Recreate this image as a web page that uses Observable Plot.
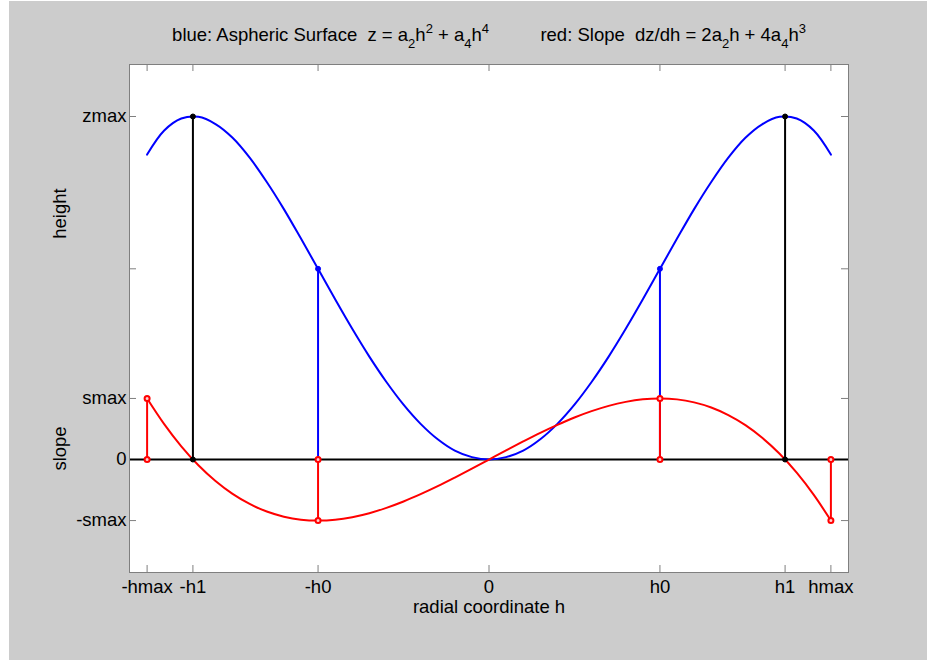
<!DOCTYPE html>
<html>
<head>
<meta charset="utf-8">
<script src="https://cdn.jsdelivr.net/npm/d3@7"></script>
<script src="https://cdn.jsdelivr.net/npm/@observablehq/plot@0.6"></script>
<style>
  body { margin: 0; background: #fff; }
  #fig { position: relative; width: 927px; height: 660px; background: #fff; overflow: hidden;
         font-family: "Liberation Sans", Arial, Helvetica, sans-serif; }
  #bg { position: absolute; left: 9px; top: 1px; width: 918px; height: 659px; background: #cccccc; }
  #chart { position: absolute; left: 0; top: 0; }
  #title { position: absolute; left: 0; width: 978px; top: 26px; text-align: center; font-size: 18.5px;
           line-height: 18px; white-space: pre; color: #000; }
  #title sub, #title sup { font-size: 13px; position: relative; vertical-align: baseline; line-height: 0; }
  #title sub { top: 7px; }
  #title sup { top: -8px; }
</style>
</head>
<body>
<div id="fig">
  <div id="bg"></div>
  <div id="chart"></div>
  <div id="title">blue: Aspheric Surface  z = a<sub>2</sub>h<sup>2</sup> + a<sub>4</sub>h<sup>4</sup>          red: Slope  dz/dh = 2a<sub>2</sub>h + 4a<sub>4</sub>h<sup>3</sup></div>
</div>
<script>
// ---- data (height normalised so zmax = 1, slope in units of smax) ----
const hSamples = [-1, -0.95, -0.9, -0.85, -0.8, -0.75, -0.7, -0.65, -0.6, -0.55, -0.5,
                  -0.45, -0.4, -0.35, -0.3, -0.25, -0.2, -0.15, -0.1, -0.05, 0,
                  0.05, 0.1, 0.15, 0.2, 0.25, 0.3, 0.35, 0.4, 0.45, 0.5,
                  0.55, 0.6, 0.65, 0.7, 0.75, 0.8, 0.85, 0.9, 0.95, 1];
const heightValues = [0.889, 0.959, 0.994, 0.999, 0.978, 0.938, 0.880, 0.809, 0.730, 0.644, 0.556,
                      0.467, 0.381, 0.300, 0.226, 0.160, 0.104, 0.059, 0.026, 0.007, 0,
                      0.007, 0.026, 0.059, 0.104, 0.160, 0.226, 0.300, 0.381, 0.467, 0.556,
                      0.644, 0.730, 0.809, 0.880, 0.938, 0.978, 0.999, 0.994, 0.959, 0.889];
const slopeValues = [1, 0.580, 0.216, -0.094, -0.352, -0.563, -0.728, -0.852, -0.936, -0.985, -1,
                     -0.986, -0.944, -0.879, -0.792, -0.688, -0.568, -0.437, -0.296, -0.150, 0,
                     0.150, 0.296, 0.437, 0.568, 0.688, 0.792, 0.879, 0.944, 0.986, 1,
                     0.985, 0.936, 0.852, 0.728, 0.563, 0.352, 0.094, -0.216, -0.580, -1];

// key positions
const hmax = 1, h1 = 0.866, h0 = 0.5;
const zmax = 1, zAtH0 = 0.556, smax = 1;

const blackStems = [{h: -h1, top: zmax}, {h: h1, top: zmax}];
const blueStems = [{h: -h0, top: zAtH0}, {h: h0, top: zAtH0}];
const redStems = [{h: -hmax, s: smax}, {h: -h0, s: -smax}, {h: h0, s: smax}, {h: hmax, s: -smax}];

const xTickValues = [-hmax, -h1, -h0, 0, h0, h1, hmax];
const xTickLabels = ["-hmax", "-h1", "-h0", "0", "h0", "h1", "hmax"];
const slopeDisplay = 0.178; // vertical display size of one smax relative to zmax
const yTickValues = [-slopeDisplay, 0, slopeDisplay, zAtH0, zmax];
const yTickLabels = ["-smax", "0", "smax", "", "zmax"];

// ---- build ----
const curve = hSamples.map((h, i) => ({h, z: heightValues[i], s: slopeValues[i] * slopeDisplay}));
const xLab = new Map(xTickValues.map((v, i) => [v, xTickLabels[i]]));
const yLab = new Map(yTickValues.map((v, i) => [v, yTickLabels[i]]));

const innerW = 927 - 129 - 79, innerH = 660 - 64 - 88;
const tickLen = 7;
const gray = "#7f7f7f";
const fs = 18.5;

const redDots = redStems.flatMap(d => [{h: d.h, y: 0}, {h: d.h, y: d.s * slopeDisplay}]);

const chart = Plot.plot({
  width: 927,
  height: 660,
  marginLeft: 129, marginRight: 79, marginTop: 64, marginBottom: 88,
  x: {domain: [-1.0515, 1.0515]},
  y: {domain: [-0.3294, 1.1516]},
  style: {background: "transparent", fontSize: fs + "px", fontFamily: "Liberation Sans, Arial, Helvetica, sans-serif", color: "#000", overflow: "visible"},
  marks: [
    Plot.frame({fill: "white", stroke: "none"}),
    // inward ticks (bottom/top/left/right)
    Plot.ruleX(xTickValues, {x: d => d, insetTop: innerH - tickLen, stroke: gray, strokeWidth: 1}),
    Plot.ruleX(xTickValues, {x: d => d, insetBottom: innerH - tickLen, stroke: gray, strokeWidth: 1}),
    Plot.ruleY(yTickValues, {y: d => d, insetRight: innerW - tickLen, stroke: gray, strokeWidth: 1}),
    Plot.ruleY(yTickValues, {y: d => d, insetLeft: innerW - tickLen, stroke: gray, strokeWidth: 1}),
    // zero line
    Plot.ruleY([0], {stroke: "black", strokeWidth: 2}),
    // stems
    Plot.ruleX(blackStems, {x: "h", y1: 0, y2: "top", stroke: "black", strokeWidth: 2}),
    Plot.ruleX(blueStems, {x: "h", y1: 0, y2: "top", stroke: "blue", strokeWidth: 2}),
    // curves
    Plot.line(curve, {x: "h", y: "z", stroke: "blue", strokeWidth: 2, curve: "catmull-rom"}),
    Plot.line(curve, {x: "h", y: "s", stroke: "red", strokeWidth: 2, curve: "catmull-rom"}),
    Plot.ruleX(redStems, {x: "h", y1: 0, y2: d => d.s * slopeDisplay, stroke: "red", strokeWidth: 2}),
    // markers
    Plot.dot(blackStems.flatMap(d => [{h: d.h, y: 0}, {h: d.h, y: d.top}]), {x: "h", y: "y", r: 2.5, fill: "black", stroke: "black", strokeWidth: 1}),
    Plot.dot(blueStems, {x: "h", y: "top", r: 2.5, fill: "blue", stroke: "blue", strokeWidth: 1}),
    Plot.dot(redDots, {x: "h", y: "y", r: 2.5, fill: "#ffd0d0", stroke: "red", strokeWidth: 2}),
    // frame
    Plot.frame({stroke: gray, strokeWidth: 1}),
    // axes (labels only)
    Plot.axisX({ticks: xTickValues, tickFormat: d => xLab.get(d), tickSize: 0, tickPadding: 7, label: null, fontSize: fs}),
    Plot.axisY({ticks: yTickValues, tickFormat: d => yLab.get(d), tickSize: 0, tickPadding: 3, label: null, fontSize: fs}),
    // axis titles
    Plot.text(["radial coordinate h"], {text: d => d, frameAnchor: "bottom", lineAnchor: "top", textAnchor: "middle", dy: 27, fontSize: fs}),
    Plot.text(["height"], {text: d => d, frameAnchor: "left", textAnchor: "middle", lineAnchor: "middle", dx: -69, dy: -105, rotate: -90, fontSize: fs}),
    Plot.text(["slope"], {text: d => d, frameAnchor: "left", textAnchor: "middle", lineAnchor: "middle", dx: -69, dy: 130, rotate: -90, fontSize: fs})
  ]
});
document.getElementById("chart").appendChild(chart);
</script>
</body>
</html>
